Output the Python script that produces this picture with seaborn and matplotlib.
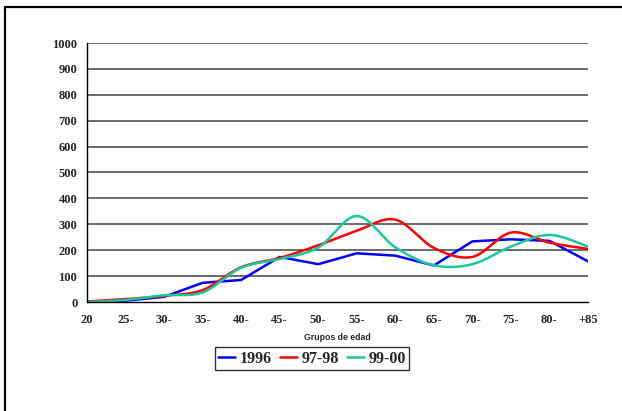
import numpy as np
import pandas as pd
import matplotlib
matplotlib.use("Agg")
import matplotlib.pyplot as plt
from matplotlib.lines import Line2D
from matplotlib.font_manager import FontProperties
import seaborn as sns

# Age groups and rates per series
age_groups = ["20", "25-", "30-", "35-", "40-", "45-", "50-", "55-", "60-",
              "65-", "70-", "75-", "80-", "+85"]
y_1996 = [0, 5, 20, 74, 85, 174, 146, 188, 179, 141, 234, 242, 236, 157]
y_9798 = [2, 11, 24, 46, 134, 170, 219, 275, 318, 209, 174, 268, 229, 205]
y_9900 = [0, 8, 26, 37, 132, 166, 210, 332, 211, 142, 146, 214, 259, 214]
y_ticks = list(range(0, 1001, 100))

series_names = ["1996", "97-98", "99-00"]
series_values = [y_1996, y_9798, y_9900]
series_colors = ["#0000FF", "#FF0000", "#1BC79E"]
series_smooth = [False, True, True]


def smooth_curve(x, y, steps=30):
    """Catmull-Rom style curve through the points (spreadsheet 'smoothed line')."""
    x = np.asarray(x, float)
    y = np.asarray(y, float)
    n = len(x)
    xs, ys = [], []
    for i in range(n - 1):
        p0 = np.array([x[max(i - 1, 0)], y[max(i - 1, 0)]])
        p1 = np.array([x[i], y[i]])
        p2 = np.array([x[i + 1], y[i + 1]])
        p3 = np.array([x[min(i + 2, n - 1)], y[min(i + 2, n - 1)]])
        c1 = p1 + (p2 - p0) / 6.0
        c2 = p2 - (p3 - p1) / 6.0
        t = np.linspace(0, 1, steps, endpoint=(i == n - 2))[:, None]
        pts = ((1 - t) ** 3) * p1 + 3 * ((1 - t) ** 2) * t * c1 \
            + 3 * (1 - t) * t ** 2 * c2 + t ** 3 * p2
        xs.append(pts[:, 0])
        ys.append(pts[:, 1])
    return np.concatenate(xs), np.concatenate(ys)


sns.set_style("white")
fig = plt.figure(figsize=(6.22, 4.11), dpi=100)
ax = fig.add_axes([87 / 622, 1 - 302 / 411, (588 - 87) / 622, (302 - 43) / 411])

pos = np.arange(len(age_groups))
frames = []
for name, vals, smooth in zip(series_names, series_values, series_smooth):
    if smooth:
        xs, ys = smooth_curve(pos, vals)
    else:
        xs, ys = pos.astype(float), np.asarray(vals, float)
    frames.append(pd.DataFrame({"x": xs, "y": ys, "serie": name}))
df = pd.concat(frames, ignore_index=True)

sns.lineplot(data=df, x="x", y="y", hue="serie", hue_order=series_names,
             palette=series_colors, sort=False, estimator=None,
             linewidth=1.8, ax=ax, legend=True)

# Horizontal gridlines
for v in y_ticks[1:]:
    ax.axhline(v, color="#505050", linewidth=1.2, zorder=0)

ax.set_xlim(0, len(age_groups) - 1)
ax.set_ylim(0, 1000)
ax.set_yticks(y_ticks)
ax.set_xticks(pos)
ax.set_xticklabels(age_groups)
serif_bold = FontProperties(family="Liberation Serif", weight="bold", size=9)
for lbl in ax.get_yticklabels() + ax.get_xticklabels():
    lbl.set_fontproperties(serif_bold)
ax.tick_params(axis="y", direction="out", length=4, width=1, color="black", pad=3)
ax.tick_params(axis="x", direction="inout", length=7, width=1, color="black", pad=5)
ax.set_xlabel("Grupos de edad", fontsize=6.3, fontweight="bold",
              family="Liberation Sans", labelpad=5)
ax.set_ylabel("")

for side in ("top", "right"):
    ax.spines[side].set_visible(False)
for side in ("left", "bottom"):
    ax.spines[side].set_color("black")
    ax.spines[side].set_linewidth(1.0)

leg = ax.legend(loc="upper center", bbox_to_anchor=(0.449, -0.175), ncol=3,
                frameon=True, fancybox=False, shadow=False,
                prop=dict(family="Liberation Serif", weight="bold", size=11.5),
                handlelength=1.05, handletextpad=0.3, columnspacing=0.5,
                borderpad=0.2, borderaxespad=0)
leg.get_frame().set_edgecolor("black")
leg.get_frame().set_linewidth(1.0)
for h in leg.get_lines():
    h.set_linewidth(1.8)

# Outer chart-area border: top and left edges
fig.add_artist(Line2D([5 / 622, 1.0], [1 - 7 / 411, 1 - 7 / 411],
                      transform=fig.transFigure, color="black", linewidth=1.6))
fig.add_artist(Line2D([5 / 622, 5 / 622], [0.0, 1 - 7 / 411],
                      transform=fig.transFigure, color="black", linewidth=1.6))

fig.savefig("out.png", dpi=100)
